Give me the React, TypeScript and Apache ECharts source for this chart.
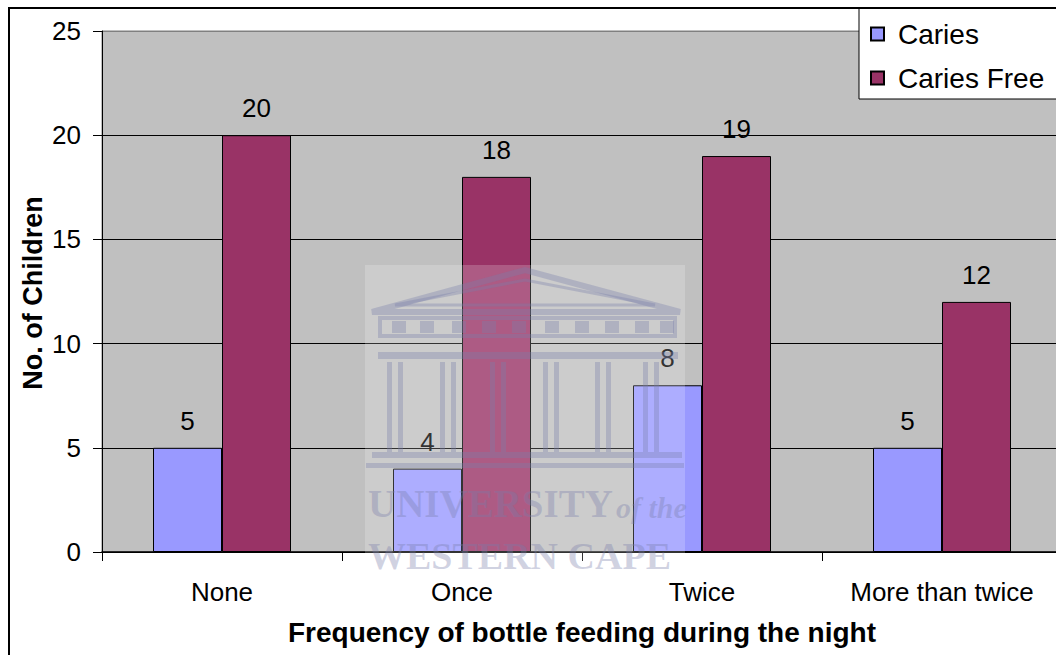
import React, { useEffect, useRef } from "react";
import * as echarts from "echarts";

const categories = ["None", "Once", "Twice", "More than twice"];
const caries = [5, 4, 8, 5];
const cariesFree = [20, 18, 19, 12];
const seriesNames = ["Caries", "Caries Free"];
const yTitle = "No. of Children";
const xTitle = "Frequency of bottle feeding during the night";

const FONT = '"Liberation Sans", Arial, sans-serif';
const WM = "rgba(120,125,170,0.34)";

function watermark() {
  const els: any[] = [];
  els.push({ type: "rect", shape: { x: 365, y: 265, width: 320, height: 310 }, style: { fill: "rgba(255,255,255,0.2)" } });
  els.push({ type: "polygon", shape: { points: [[372, 312], [525, 270], [680, 312]] }, style: { fill: "none", stroke: WM, lineWidth: 6 } });
  els.push({ type: "polygon", shape: { points: [[395, 305], [525, 280], [655, 305]] }, style: { fill: "none", stroke: WM, lineWidth: 3 } });
  els.push({ type: "rect", shape: { x: 380, y: 318, width: 295, height: 18 }, style: { fill: "none", stroke: WM, lineWidth: 4 } });
  const wx = [392, 420, 452, 482, 512, 545, 575, 605, 635, 660];
  wx.forEach((x) => els.push({ type: "rect", shape: { x, y: 321, width: 14, height: 12 }, style: { fill: WM } }));
  els.push({ type: "rect", shape: { x: 378, y: 352, width: 300, height: 7 }, style: { fill: WM } });
  const cx = [387, 440, 490, 543, 595, 643];
  cx.forEach((x) => {
    els.push({ type: "rect", shape: { x, y: 362, width: 5, height: 90 }, style: { fill: WM } });
    els.push({ type: "rect", shape: { x: x + 11, y: 362, width: 5, height: 90 }, style: { fill: WM } });
  });
  els.push({ type: "rect", shape: { x: 372, y: 452, width: 310, height: 6 }, style: { fill: WM } });
  els.push({ type: "rect", shape: { x: 366, y: 463, width: 318, height: 5 }, style: { fill: WM } });
  els.push({ type: "text", x: 368, y: 523, style: { text: "UNIVERSITY", font: 'bold 39px "Liberation Serif", serif', fill: WM, align: "left", verticalAlign: "bottom" } });
  els.push({ type: "text", x: 616, y: 522, style: { text: "of the", font: 'italic bold 30px "Liberation Serif", serif', fill: WM, align: "left", verticalAlign: "bottom" } });
  els.push({ type: "text", x: 368, y: 575, style: { text: "WESTERN CAPE", font: 'bold 38px "Liberation Serif", serif', fill: WM, align: "left", verticalAlign: "bottom" } });
  return els.map((e) => ({ ...e, z: 50, silent: true }));
}

export default function App() {
  const ref = useRef<HTMLDivElement>(null);
  useEffect(() => {
    if (!ref.current) return;
    const chart = echarts.init(ref.current, null, { renderer: "svg" });
    chart.setOption({
      animation: false,
      backgroundColor: "#ffffff",
      textStyle: { fontFamily: FONT },
      grid: {
        left: 102,
        top: 31,
        right: 8,
        bottom: 103,
        show: true,
        backgroundColor: "#c0c0c0",
        borderColor: "#808080",
        borderWidth: 1,
      },
      legend: {
        orient: "vertical",
        left: 859,
        top: 8,
        data: seriesNames,
        backgroundColor: "#ffffff",
        borderColor: "#000000",
        borderWidth: 1,
        borderRadius: 0,
        padding: [12, 30, 7, 11],
        itemGap: 16,
        itemWidth: 13,
        itemHeight: 13,
        icon: "rect",
        textStyle: { fontFamily: FONT, fontSize: 28, lineHeight: 28, color: "#000", padding: [0, 0, 0, 9] },
      },
      xAxis: {
        type: "category",
        data: categories,
        boundaryGap: true,
        axisLine: { lineStyle: { color: "#000", width: 1.5 } },
        axisTick: { show: true, alignWithLabel: false, length: 9, lineStyle: { color: "#000" } },
        axisLabel: { fontFamily: FONT, fontSize: 26, color: "#000", margin: 27, interval: 0, hideOverlap: false },
        splitLine: { show: false },
      },
      yAxis: {
        type: "value",
        min: 0,
        max: 25,
        interval: 5,
        axisLine: { show: true, lineStyle: { color: "#000", width: 1 } },
        axisTick: { show: true, length: 9, lineStyle: { color: "#000" } },
        axisLabel: { fontFamily: FONT, fontSize: 26, color: "#000", margin: 21 },
        splitLine: { show: true, lineStyle: { color: ["#000", "#000", "#000", "#000", "#000", "#808080"], width: 1 } },
      },
      series: [
        {
          name: seriesNames[0],
          type: "bar",
          data: caries,
          barWidth: 69,
          barGap: "0%",
          itemStyle: { color: "#9999ff", borderColor: "#000", borderWidth: 1 },
          label: { show: true, position: "top", distance: 14, fontFamily: FONT, fontSize: 26, color: "#000" },
        },
        {
          name: seriesNames[1],
          type: "bar",
          data: cariesFree,
          barWidth: 69,
          barGap: "0%",
          itemStyle: { color: "#993366", borderColor: "#000", borderWidth: 1 },
          label: { show: true, position: "top", distance: 14, fontFamily: FONT, fontSize: 26, color: "#000" },
        },
      ],
      graphic: [
        ...watermark(),
        {
          type: "text",
          x: 33,
          y: 293,
          rotation: Math.PI / 2,
          style: { text: yTitle, font: `bold 27px ${FONT}`, fill: "#000", align: "center", verticalAlign: "middle" },
        },
        {
          type: "text",
          x: 582,
          y: 632,
          style: { text: xTitle, font: `bold 28px ${FONT}`, fill: "#000", align: "center", verticalAlign: "middle" },
        },
        {
          type: "rect",
          z: 100,
          shape: { x: 9, y: 8, width: 1200, height: 800 },
          style: { fill: "none", stroke: "#000", lineWidth: 2 },
          silent: true,
        },
      ],
    });
    return () => chart.dispose();
  }, []);
  return (
    <div style={{ position: "absolute", left: 0, top: 0, width: 1056, height: 655, overflow: "hidden" }}>
      <div ref={ref} style={{ width: 1070, height: 655 }} />
    </div>
  );
}
